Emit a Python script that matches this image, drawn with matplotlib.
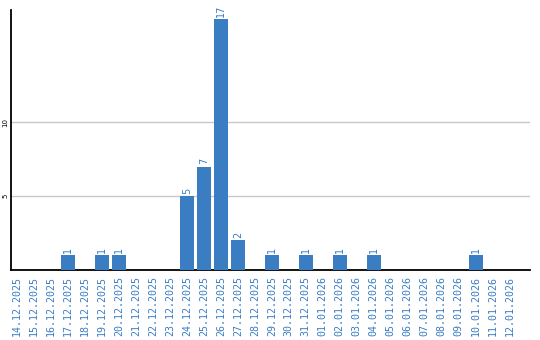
import matplotlib
matplotlib.use("Agg")
import matplotlib.pyplot as plt
import numpy as np

# ===== data =====
dates = ["14.12.2025", "15.12.2025", "16.12.2025", "17.12.2025", "18.12.2025",
         "19.12.2025", "20.12.2025", "21.12.2025", "22.12.2025", "23.12.2025",
         "24.12.2025", "25.12.2025", "26.12.2025", "27.12.2025", "28.12.2025",
         "29.12.2025", "30.12.2025", "31.12.2025", "01.01.2026", "02.01.2026",
         "03.01.2026", "04.01.2026", "05.01.2026", "06.01.2026", "07.01.2026",
         "08.01.2026", "09.01.2026", "10.01.2026", "11.01.2026", "12.01.2026"]
counts = [0, 0, 0, 1, 0, 1, 1, 0, 0, 0, 5, 7, 17, 2, 0,
          1, 0, 1, 0, 1, 0, 1, 0, 0, 0, 0, 0, 1, 0, 0]
yticks = [5, 10]

blue = "#3a7dc3"

fig = plt.figure(figsize=(5.4, 3.4), dpi=100)
ax = fig.add_axes([11 / 540, 70 / 340, 519 / 540, 260 / 340])

x = np.arange(len(dates))
ax.bar(x, counts, width=0.82, color=blue, zorder=3)

for xi, c in zip(x, counts):
    if c > 0:
        ax.text(xi, c + 0.15, str(c), rotation=90, ha="center", va="bottom",
                color=blue, fontsize=7, family="DejaVu Sans")

ax.set_xlim(-0.35, 30.2)
ax.set_ylim(0, 17.6)

ax.set_xticks(x)
ax.set_xticklabels(dates, rotation=90, color=blue, fontsize=7.2,
                   family="DejaVu Sans Mono")
ax.tick_params(axis="x", length=0, pad=4)

ax.set_yticks(yticks)
ax.set_yticklabels([str(t) for t in yticks], rotation=90, fontsize=5,
                   va="center")
ax.tick_params(axis="y", length=0, pad=2)

ax.grid(True, axis="y", color="#c8c8c8", linewidth=1, zorder=0)

ax.spines["top"].set_visible(False)
ax.spines["right"].set_visible(False)
ax.spines["left"].set_linewidth(1.3)
ax.spines["bottom"].set_linewidth(1.3)

fig.savefig("out.png", dpi=100)
plt.close(fig)
